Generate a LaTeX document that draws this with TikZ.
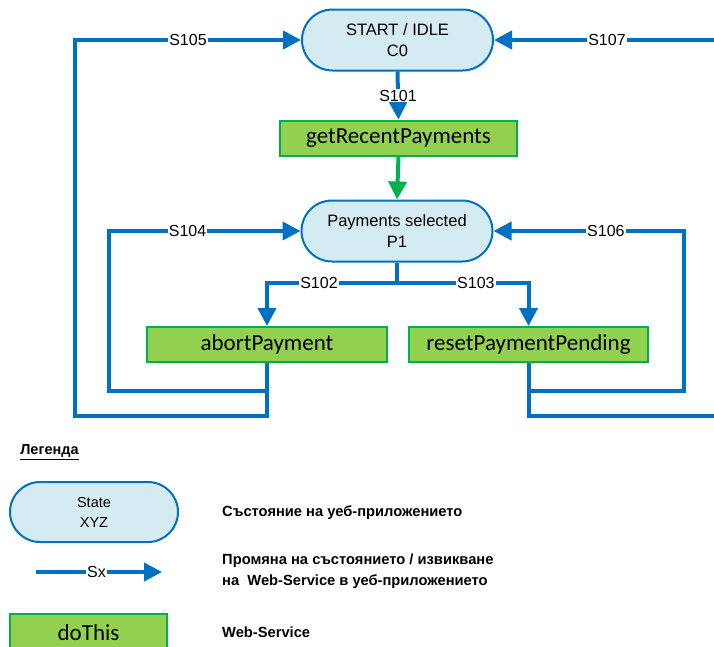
\documentclass[tikz,border=0pt]{standalone}
\usepackage{fontspec}
\setmainfont{Liberation Sans}
\newfontfamily\calib{Carlito}
\usetikzlibrary{arrows.meta,shapes.misc}
\definecolor{myblue}{RGB}{0,112,192}
\definecolor{mylight}{RGB}{212,235,242}
\definecolor{mygreen}{RGB}{146,208,80}
\definecolor{mygreenb}{RGB}{0,176,80}
\tikzset{
  line/.style={draw=myblue, line width=4pt},
  arr/.style={line, -{Triangle[length=18pt,width=18pt]}},
  garr/.style={draw=mygreenb, line width=4pt, -{Triangle[length=18pt,width=18pt]}},
  lbl/.style={fill=white, inner sep=1pt, text=black, font=\fontsize{16}{19}\selectfont},
  statebox/.style={rounded rectangle, draw=myblue, line width=2pt, fill=mylight,
    minimum width=191pt, minimum height=61pt, inner sep=0pt, align=center,
    font=\fontsize{16.5}{21}\selectfont},
  wsbox/.style={rectangle, draw=mygreenb, line width=2pt, fill=mygreen,
    minimum height=35pt, inner sep=0pt, font=\calib\fontsize{23}{26}\selectfont},
  legtext/.style={anchor=west, inner sep=0pt, align=left, font=\bfseries\fontsize{14.7}{20.5}\selectfont},
}
\begin{document}
\begin{tikzpicture}[x=1pt,y=-1pt]
\useasboundingbox (0,0) rectangle (714,646);
\clip (0,0) rectangle (714,646);
% states
\node[statebox] (C0) at (397.5,40) {START / IDLE\\C0};
\node[statebox] (P1) at (397,231) {Payments selected\\P1};
% web services
\node[wsbox, minimum width=237pt] (grp) at (398.5,138) {getRecentPayments};
\node[wsbox, minimum width=240pt] (ab) at (267,344.5) {abortPayment};
\node[wsbox, minimum width=239pt] (rp) at (528.5,344.5) {resetPaymentPending};
% helper coordinates
\coordinate (split) at (397,283);
\coordinate (a1) at (109,391);
\coordinate (a2) at (75,416);
\coordinate (b1) at (684,391);
\coordinate (b2) at (720,416);
% connectors
\draw[arr] (C0.south) -- node[lbl]{S101} (grp.north);
\draw[garr] (grp.south) -- (P1.north);
\draw[line] (P1.south) -- (split);
\draw[arr] (split) -| node[lbl,pos=0.3]{S102} (ab.north);
\draw[arr] (split) -| node[lbl,pos=0.3]{S103} (rp.north);
\draw[arr] (ab.south) |- (a1) |- node[lbl,pos=0.705]{S104} (P1.west);
\draw[arr] (ab.south) |- (a2) |- node[lbl,pos=0.75]{S105} (C0.west);
\draw[arr] (rp.south) |- (b1) |- node[lbl,pos=0.705]{S106} (P1.east);
\draw[arr] (rp.south) |- (b2) |- node[lbl,pos=0.75]{S107} (C0.east);
% legend
\node[inner sep=0pt, font=\bfseries\fontsize{14.5}{16}\selectfont] (leg) at (49.5,452) {\underline{Легенда}};
\node[statebox, minimum width=168pt, minimum height=60pt, font=\fontsize{14.5}{20}\selectfont] (st) at (94,512) {State\\XYZ};
\node[legtext] (t1) at (222,513) {Състояние на уеб-приложението};
\coordinate (sx1) at (36,572);
\coordinate (sx2) at (162,572);
\draw[arr] (sx1) -- node[lbl,pos=0.48]{Sx} (sx2);
\node[legtext] (t2) at (222,571) {Промяна на състоянието / извикване\\на\ \ Web-Service в уеб-приложението};
\node[wsbox, minimum width=157pt, minimum height=37pt, anchor=north] (dt) at (88.5,613) {doThis};
\node[legtext] (t3) at (222,632) {Web-Service};
\end{tikzpicture}
\end{document}
